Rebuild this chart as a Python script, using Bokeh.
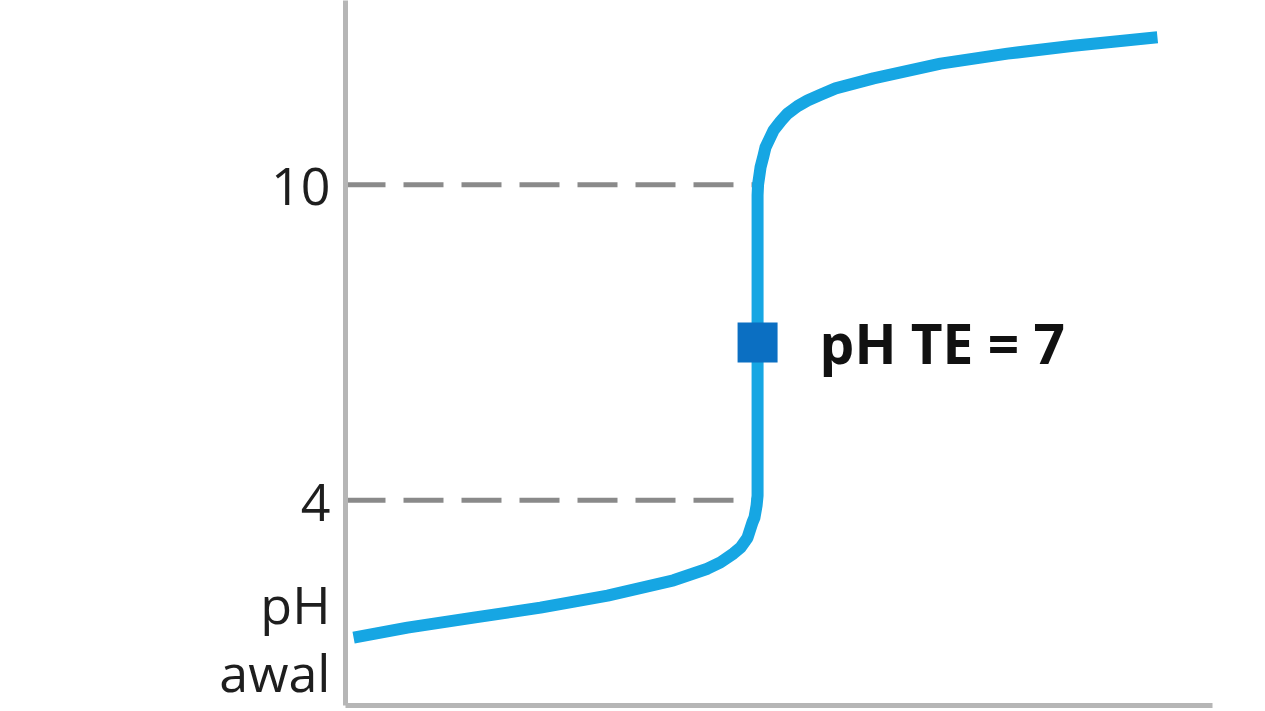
from bokeh.plotting import figure
from bokeh.models import Range1d, FixedTicker, ColumnDataSource
from bokeh.core.properties import value
from bokeh.embed import file_html
from bokeh.resources import INLINE

# Titration curve: volume of titrant (mL) vs pH
volume = [0.49, 3.76, 7.77, 11.83, 15.90, 19.90, 21.96, 22.75, 23.54, 23.96, 24.39,
          24.69, 24.81, 24.94, 25.0,
          25.0, 25.03, 25.18, 25.36, 25.48, 25.97, 26.39, 26.82, 27.42, 28.03,
          28.82, 29.73, 32.03, 36.10, 40.16, 44.17, 49.26]
ph = [1.39, 1.58, 1.77, 1.96, 2.19, 2.48, 2.70, 2.82, 2.99, 3.10, 3.29,
      3.58, 3.67, 3.90, 4.09,
      9.80, 10.0, 10.33, 10.55, 10.71, 11.03, 11.20, 11.35, 11.49, 11.60,
      11.71, 11.83, 12.02, 12.30, 12.49, 12.64, 12.80]

eq_volume = 25.0          # equivalence point volume
eq_ph = 7                 # pH at equivalence point
jump_ph = [4, 10]         # edges of the steep pH jump
initial_ph = ph[0]
tick_labels = {4: "4", 10: "10"}
initial_label = "pH\nawal"
eq_label = "pH TE = 7"

x_max = 52.6
y_min, y_max = 0.1, 13.5

p = figure(width=1265, height=711, output_backend="svg", toolbar_location=None,
           x_range=Range1d(0, x_max), y_range=Range1d(y_min, y_max),
           min_border_left=345, min_border_right=53, min_border_top=0,
           min_border_bottom=6)
p.background_fill_color = "white"
p.border_fill_color = "white"
p.outline_line_color = None
p.grid.visible = False

axis_color = "#b6b6b6"
font = "Open Sans"

# left axis: the jump edges and the starting pH are labelled
labels = dict(tick_labels)
labels[initial_ph] = initial_label
ya = p.yaxis[0]
ya.ticker = FixedTicker(ticks=[initial_ph] + jump_ph)
ya.major_label_overrides = labels
ya.axis_line_color = axis_color
ya.axis_line_width = 5
ya.major_tick_line_color = None
ya.minor_tick_line_color = None
ya.major_label_text_font = font
ya.major_label_text_font_size = "52px"
ya.major_label_text_color = "#1e1e1e"
ya.major_label_text_line_height = 0.95
ya.major_label_standoff = 9

# bottom axis: plain line
xa = p.xaxis[0]
xa.ticker = FixedTicker(ticks=[])
xa.axis_line_color = axis_color
xa.axis_line_width = 5
xa.major_tick_line_color = None
xa.minor_tick_line_color = None
xa.major_label_text_font_size = "0px"
xa.major_label_standoff = 0
xa.major_tick_out = 0
xa.minor_tick_out = 0

# dashed guides from the axis to the curve
guides = ColumnDataSource(dict(x0=[0] * len(jump_ph), x1=[eq_volume] * len(jump_ph),
                               y=jump_ph))
p.segment(x0="x0", y0="y", x1="x1", y1="y", source=guides,
          line_color="#8a8a8a", line_width=5, line_dash="40 18")

# titration curve
p.line(volume, ph, line_color="#16a6e3", line_width=12, line_join="round")

# equivalence point
p.scatter([eq_volume], [eq_ph], marker="square", size=40,
          fill_color="#0b6fc2", line_color=None)
p.text([eq_volume], [eq_ph], text=[eq_label], x_offset=62,
       text_font=value(font), text_font_style="bold", text_font_size="55px",
       text_color="#111111", text_baseline="middle", text_align="left")

open("out.html", "w").write(file_html(p, INLINE))
